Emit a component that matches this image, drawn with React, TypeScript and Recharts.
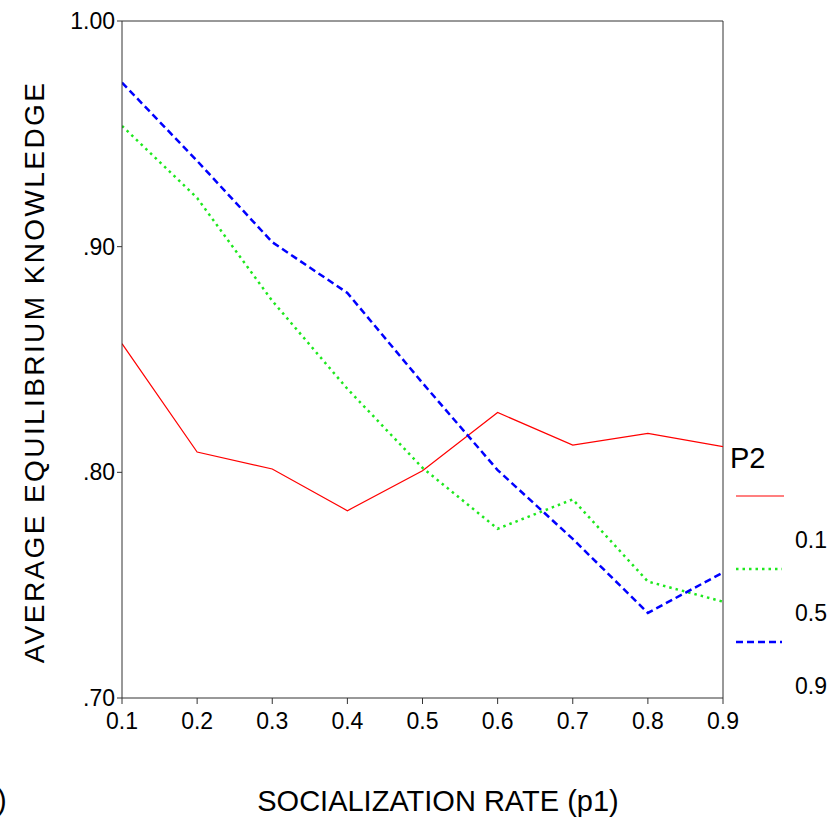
import { LineChart, Line, XAxis, YAxis, ReferenceLine, Legend } from "recharts";

const rates = [0.1, 0.2, 0.3, 0.4, 0.5, 0.6, 0.7, 0.8, 0.9];
const p2Low = [0.857, 0.809, 0.8015, 0.783, 0.8007, 0.8265, 0.8121, 0.8173, 0.8114];
const p2Mid = [0.9535, 0.9216, 0.876, 0.837, 0.802, 0.775, 0.788, 0.7516, 0.7427];
const p2High = [0.9727, 0.938, 0.902, 0.8795, 0.8396, 0.801, 0.7705, 0.7377, 0.7556];
const yTicks = [0.7, 0.8, 0.9, 1.0];
const seriesNames = ["0.1", "0.5", "0.9"];

const data = rates.map((r, i) => ({ rate: r, a: p2Low[i], b: p2Mid[i], c: p2High[i] }));

const sans = "'Liberation Sans', Arial, sans-serif";

function fmtY(v: number) {
  if (v >= 1) return "1.00";
  return "." + Math.round(v * 100).toString();
}

function LegendBox({ payload }: any) {
  const items = payload || [];
  return (
    <svg width={110} height={260} style={{ overflow: "visible" }}>
      <text x={3} y={23} fontFamily={sans} fontSize={29} fill="#000">P2</text>
      {items.map((it: any, i: number) => {
        const ly = 51 + i * 73;
        return (
          <g key={i}>
            <line
              x1={9}
              x2={i === 0 ? 57 : 55}
              y1={ly}
              y2={ly}
              stroke={it.color}
              strokeWidth={it.payload?.strokeWidth ?? 2}
              strokeDasharray={it.payload?.strokeDasharray}
            />
            <text x={68} y={ly + 52} fontFamily={sans} fontSize={23} fill="#000">
              {it.value}
            </text>
          </g>
        );
      })}
    </svg>
  );
}

export default function App() {
  return (
    <div style={{ position: "absolute", left: 0, top: 0, width: 838, height: 819, background: "#fff", fontFamily: sans }}>
      <LineChart width={838} height={819} data={data} margin={{ top: 21, right: 115, bottom: 81, left: 62 }}>
        <XAxis
          dataKey="rate"
          type="number"
          domain={[0.1, 0.9]}
          ticks={rates}
          tickFormatter={(v: number) => v.toFixed(1)}
          height={40}
          tickSize={6}
          tickMargin={9}
          stroke="#333"
          tick={{ fill: "#000", fontSize: 23, fontFamily: sans }}
          allowDataOverflow
        />
        <YAxis
          type="number"
          domain={[0.7, 1.0]}
          ticks={yTicks}
          tickFormatter={fmtY}
          width={60}
          tickSize={5}
          tickMargin={2}
          stroke="#333"
          tick={{ fill: "#000", fontSize: 23, fontFamily: sans }}
          allowDataOverflow
        />
        <ReferenceLine y={1.0} stroke="#333" strokeWidth={1} />
        <ReferenceLine x={0.9} stroke="#333" strokeWidth={1} />
        <Line type="linear" dataKey="a" name={seriesNames[0]} stroke="#ff0000" strokeWidth={1.2} dot={false} isAnimationActive={false} />
        <Line type="linear" dataKey="b" name={seriesNames[1]} stroke="#1ee81e" strokeWidth={2.5} strokeDasharray="2.5 4" dot={false} isAnimationActive={false} />
        <Line type="linear" dataKey="c" name={seriesNames[2]} stroke="#0000ff" strokeWidth={2.5} strokeDasharray="7 4" dot={false} isAnimationActive={false} />
        <Legend
          layout="horizontal"
          verticalAlign="middle"
          align="center"
          content={<LegendBox />}
          wrapperStyle={{ position: "absolute", left: 727, top: 445, width: 110, height: 260 }}
        />
      </LineChart>
      <svg width={838} height={819} style={{ position: "absolute", left: 0, top: 0, pointerEvents: "none" }}>
        <text
          x={0}
          y={0}
          transform="translate(44 372) rotate(-90)"
          textAnchor="middle"
          fontFamily={sans}
          fontSize={28}
          letterSpacing={2.4}
          fill="#000"
        >
          AVERAGE EQUILIBRIUM KNOWLEDGE
        </text>
        <text x={438} y={811} textAnchor="middle" fontFamily={sans} fontSize={29} fill="#000">
          SOCIALIZATION RATE (p1)
        </text>
        <text x={-3} y={810} fontFamily={sans} fontSize={29} fill="#000">)</text>
      </svg>
    </div>
  );
}
